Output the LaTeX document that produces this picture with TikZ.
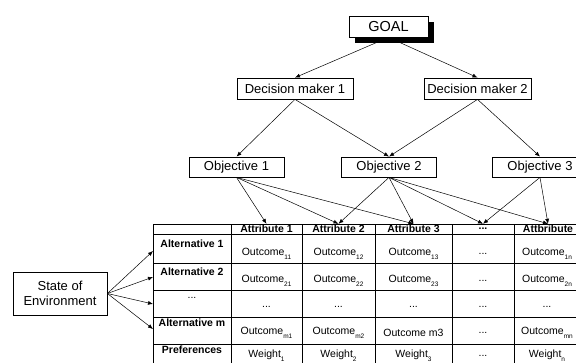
\documentclass[tikz,border=0pt]{standalone}
\usepackage{fontspec}
\setmainfont{Liberation Sans}
\usetikzlibrary{arrows.meta, positioning, shadows, backgrounds}
\newcommand{\sbs}[1]{\raisebox{-0.7ex}{\fontsize{6.5}{6.5}\selectfont #1}}
\newcommand{\dd}{...}

\begin{document}
\begin{tikzpicture}[x=1pt, y=-1pt,
    every node/.style={align=center, inner sep=0pt},
    box/.style={draw, line width=0.8pt, fill=white, minimum height=21pt, font=\fontsize{13}{15}\selectfont},
    arr/.style={-{Latex[length=5pt, width=4pt]}, line width=0.5pt},
    hd/.style={font=\fontsize{10.5}{12}\selectfont\bfseries},
    cell/.style={font=\fontsize{10.5}{12}\selectfont}
]
\useasboundingbox (0,0) rectangle (576,362);
\clip (0,0) rectangle (576,362);
% Ierarhia
\node[box, minimum width=79pt, font=\fontsize{14.5}{16}\selectfont,
    drop shadow={shadow xshift=6pt, shadow yshift=-6pt, fill=black, opacity=1}] (goal) at (388.5,26.5) {GOAL};
\node[box, minimum width=116pt] (dm1) at (295,88.5) {Decision maker 1};
\node[box, minimum width=107pt] (dm2) at (477.5,88.5) {Decision maker 2};
\foreach \x/\n in {236.5/1, 389/2, 540/3}
    \node[box, minimum width=95pt, minimum height=20pt] (obj\n) at (\x,167) {Objective \n};
\node[box, minimum width=94pt, minimum height=43pt] (env) at (60,293.5) {State of\\Environment};
% Tabelul
\foreach \y in {224,234,263,290,317,344}
    \draw[line width=0.9pt] (153,\y) -- (590,\y);
\foreach \x in {153,231,302,375,452,514}
    \draw[line width=0.9pt] (\x,224) -- (\x,372);
\foreach \i/\x/\t in {1/266.5/Attribute 1, 2/338.5/Attribute 2, 3/413.5/Attribute 3, 4/483/\dd, 5/548/Attbribute}
    \node[hd, minimum height=10pt] (h\i) at (\x,229) {\t};
\foreach \r/\y/\t in {1/244/Alternative 1, 2/272/Alternative 2, 4/323/Alternative m, 5/350/Preferences}
    \node[hd] (r\r) at (192,\y) {\t};
\node[cell] (r3) at (192,298) {\dd};
\foreach \r/\y/\ca/\cb/\cc/\cd/\ce in {
    1/254/{Outcome\sbs{11}}/{Outcome\sbs{12}}/{Outcome\sbs{13}}/\dd/{Outcome\sbs{1n}},
    2/281/{Outcome\sbs{21}}/{Outcome\sbs{22}}/{Outcome\sbs{23}}/\dd/{Outcome\sbs{2n}},
    3/307/\dd/\dd/\dd/\dd/\dd,
    4/333/{Outcome\sbs{m1}}/{Outcome\sbs{m2}}/{Outcome m3}/\dd/{Outcome\sbs{mn}},
    5/356/{Weight\sbs{1}}/{Weight\sbs{2}}/{Weight\sbs{3}}/\dd/{Weight\sbs{n}}} {
    \node[cell] (c\r1) at (266.5,\y) {\ca};
    \node[cell] (c\r2) at (338.5,\y) {\cb};
    \node[cell] (c\r3) at (413.5,\y) {\cc};
    \node[cell] (c\r4) at (483,\y) {\cd};
    \node[cell] (c\r5) at (547,\y) {\ce};
}
\foreach \i/\y in {1/251, 2/277, 3/304, 4/329}
    \coordinate (a\i) at (153,\y);
% Sagetile
\begin{scope}[on background layer]
\draw[arr] (goal.south) -- (dm1.north);
\draw[arr] (goal.south) -- (dm2.north);
\draw[arr] (dm1.south) -- (obj1.north);
\draw[arr] (dm1.south) -- (obj2.north);
\draw[arr] (dm2.south) -- (obj2.north);
\draw[arr] (dm2.south) -- (obj3.north);
\foreach \h in {1,2,3} \draw[arr] (obj1.south) -- (h\h.north);
\foreach \h in {2,3,4,5} \draw[arr] (obj2.south) -- (h\h.north);
\foreach \h in {4,5} \draw[arr] (obj3.south) -- (h\h.north);
\foreach \i in {1,2,3,4} \draw[arr] (env.east) -- (a\i);
\end{scope}
\end{tikzpicture}
\end{document}
